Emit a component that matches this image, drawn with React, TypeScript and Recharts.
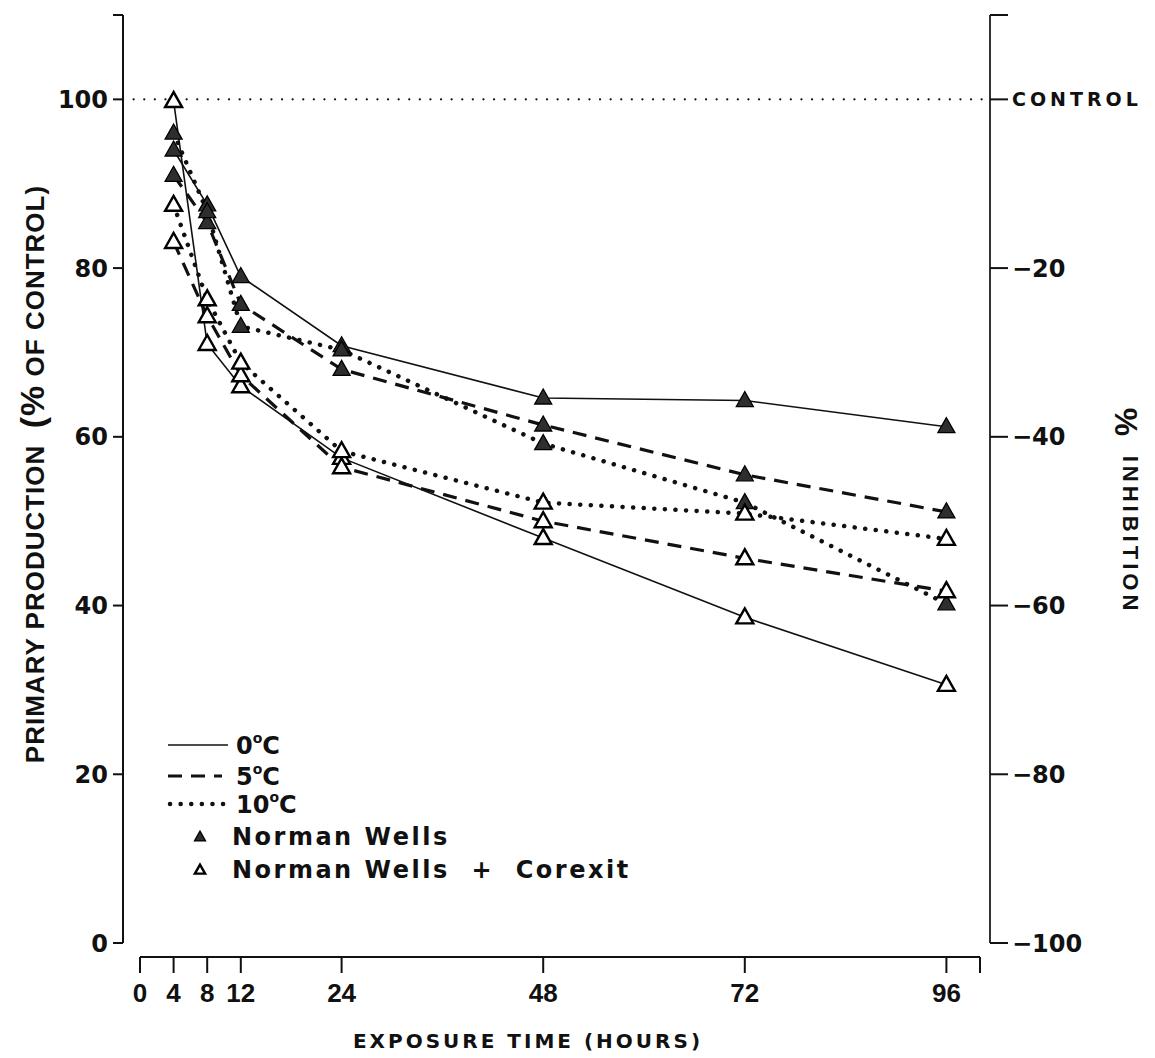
import React from 'react';
import { ComposedChart, Line, XAxis, YAxis, ReferenceLine, Legend } from 'recharts';

// ---------- data ----------
const hours = [4, 8, 12, 24, 48, 72, 96];
// Norman Wells (filled triangles)
const nw0 = [94, 87.5, 79, 70.8, 64.6, 64.3, 61.2];
const nw5 = [91, 85.4, 75.7, 68.0, 61.4, 55.5, 51.1];
const nw10 = [96, 86.7, 73.1, 70.3, 59.2, 52.2, 40.2];
// Norman Wells + Corexit (open triangles)
const nwc0 = [99.8, 71.0, 66.0, 57.5, 48.0, 38.6, 30.6];
const nwc5 = [83.1, 74.3, 67.3, 56.4, 50.0, 45.6, 41.7];
const nwc10 = [87.5, 76.3, 68.8, 58.3, 52.2, 50.9, 47.9];

const xTicks = [0, 4, 8, 12, 24, 48, 72, 96, 100];
const leftTicks = [0, 20, 40, 60, 80, 100, 110];
const rightTicks = [-100, -80, -60, -40, -20, 0, 10];
const controlValue = 100;

const data = hours.map((t, i) => ({
  t,
  nw0: nw0[i],
  nw5: nw5[i],
  nw10: nw10[i],
  nwc0: nwc0[i],
  nwc5: nwc5[i],
  nwc10: nwc10[i],
}));

// ---------- layout ----------
const W = 1139;
const H = 1050;
const LEFT_W = 115;
const RIGHT_W = 157;
const X_H = 115;
const TOP = 7;
const PAD_L = 17;
const PAD_R = 10;
const PLOT_W = W - LEFT_W - RIGHT_W;
const X_SPAN = PLOT_W - PAD_L - PAD_R;
const PLOT_BOTTOM = H - X_H;
const INK = '#111';

const SOLID = { strokeWidth: 1.6 };
const DASHED = { strokeWidth: 3.2, strokeDasharray: '14 9' };
const DOTTED = { strokeWidth: 4.5, strokeDasharray: '0.1 10.5', strokeLinecap: 'round' as const };

const Tri = ({ cx, cy, filled, scale = 1 }: any) => {
  if (cx == null || cy == null) return null;
  const w = 8.5 * scale;
  const up = 9 * scale;
  const dn = 6 * scale;
  const pts = `${cx},${cy - up} ${cx - w},${cy + dn} ${cx + w},${cy + dn}`;
  return (
    <polygon
      points={pts}
      fill={filled ? '#2e2e2e' : '#fff'}
      stroke="#000"
      strokeWidth={filled ? 1.3 : 2.4}
      strokeLinejoin="miter"
    />
  );
};

const dotFor = (filled: boolean, name: string) => (p: any) => (
  <Tri key={`${name}-${p.index}`} cx={p.cx} cy={p.cy} filled={filled} />
);

const XTick = (props: any) => {
  const { x, payload } = props;
  const v = payload.value;
  const base = PLOT_BOTTOM + 14;
  return (
    <g>
      {v === 0 && (
        <line x1={x} x2={x + X_SPAN} y1={base} y2={base} stroke={INK} strokeWidth={2} />
      )}
      <line x1={x} x2={x} y1={base} y2={base + 16} stroke={INK} strokeWidth={2} />
      {v !== 100 && (
        <text
          x={x}
          y={PLOT_BOTTOM + 59}
          textAnchor="middle"
          fontFamily="'Liberation Sans', Arial, sans-serif"
          fontWeight="bold"
          fontSize={26}
          fill={INK}
        >
          {v}
        </text>
      )}
    </g>
  );
};

const LeftTick = (props: any) => {
  const { x, y, payload } = props;
  const v = payload.value;
  if (v === 110) return <g />;
  return (
    <text
      x={x}
      y={y}
      dy="0.36em"
      textAnchor="end"
      fontFamily="'DejaVu Sans', sans-serif"
      fontWeight="bold"
      fontSize={24}
      fill={INK}
    >
      {v}
    </text>
  );
};

const RightTick = (props: any) => {
  const { x, y, payload } = props;
  const v = payload.value;
  if (v === 10) return <g />;
  if (v === 0) {
    return (
      <text
        x={x}
        y={y}
        dy="0.36em"
        textAnchor="start"
        fontFamily="'DejaVu Sans', sans-serif"
        fontWeight="bold"
        fontSize={19}
        letterSpacing={4}
        fill={INK}
      >
        CONTROL
      </text>
    );
  }
  return (
    <text
      x={x}
      y={y}
      dy="0.36em"
      textAnchor="start"
      fontFamily="'DejaVu Sans', sans-serif"
      fontWeight="bold"
      fontSize={24}
      fill={INK}
    >
      {`\u2212${-v}`}
    </text>
  );
};

const LeftTitle = () => (
  <text
    transform={`translate(36, 466) rotate(-90)`}
    textAnchor="middle"
    fontFamily="'Liberation Sans', Arial, sans-serif"
    fontWeight="bold"
    fontSize={26}
    letterSpacing={1}
    fill={INK}
  >
    PRIMARY PRODUCTION{'\u00A0\u00A0'}
    <tspan fontSize={34}>(%</tspan>
    {'\u00A0'}OF CONTROL)
  </text>
);

const RightTitle = () => (
  <g>
    <text
      transform={`translate(1107, 414) rotate(90)`}
      textAnchor="middle"
      fontFamily="'Liberation Sans', Arial, sans-serif"
      fontWeight="bold"
      fontSize={32}
      fill={INK}
    >
      %
    </text>
    <text
      transform={`translate(1115, 527) rotate(90)`}
      textAnchor="middle"
      fontFamily="'Liberation Sans', Arial, sans-serif"
      fontWeight="bold"
      fontSize={22}
      letterSpacing={4}
      fill={INK}
    >
      INHIBITION
    </text>
  </g>
);

const XTitle = () => (
  <text
    x={520}
    y={1040}
    textAnchor="middle"
    fontFamily="'DejaVu Sans', sans-serif"
    fontWeight="bold"
    fontSize={20}
    letterSpacing={3}
    fill={INK}
  >
    EXPOSURE TIME (HOURS)
  </text>
);

const Deg = ({ x, y, num }: any) => (
  <text
    x={x}
    y={y}
    fontFamily="'DejaVu Sans', sans-serif"
    fontWeight="bold"
    fontSize={24}
    fill={INK}
  >
    {num}
    <tspan fontSize={14} dy={-11}>o</tspan>
    <tspan dy={11}>C</tspan>
  </text>
);

const LegendBox = () => {
  const rows = [17, 48, 76, 108, 141];
  const textStyle = {
    fontFamily: "'DejaVu Sans', sans-serif",
    fontWeight: 'bold' as const,
    fontSize: 24,
    letterSpacing: 2.5,
    fill: INK,
  };
  return (
    <svg width={500} height={170} style={{ overflow: 'visible' }}>
      <line x1={10} x2={70} y1={rows[0]} y2={rows[0]} stroke={INK} {...SOLID} />
      <Deg x={78} y={rows[0] + 9} num="0" />
      <line x1={10} x2={64} y1={rows[1]} y2={rows[1]} stroke={INK} {...DASHED} />
      <Deg x={78} y={rows[1] + 9} num="5" />
      <line x1={12} x2={72} y1={rows[2]} y2={rows[2]} stroke={INK} {...DOTTED} />
      <Deg x={78} y={rows[2] + 9} num="10" />
      <Tri cx={42} cy={rows[3] + 1} filled scale={0.65} />
      <text x={74} y={rows[3] + 9} {...textStyle}>Norman Wells</text>
      <Tri cx={42} cy={rows[4] + 1} filled={false} scale={0.6} />
      <text x={74} y={rows[4] + 9} {...textStyle}>
        {'Norman Wells\u00A0 +\u00A0 Corexit'}
      </text>
    </svg>
  );
};

export default function App() {
  return (
    <div style={{ width: W, height: H, background: '#fff' }}>
      <ComposedChart width={W} height={H} data={data} margin={{ top: TOP, right: 0, bottom: 0, left: 0 }}>
        <XAxis
          dataKey="t"
          type="number"
          domain={[0, 100]}
          ticks={xTicks}
          interval={0}
          padding={{ left: PAD_L, right: PAD_R }}
          height={X_H}
          axisLine={false}
          tickLine={false}
          tick={(p: any) => <XTick {...p} />}
          label={{ content: () => <XTitle /> }}
        />
        <YAxis
          yAxisId="left"
          orientation="left"
          width={LEFT_W}
          type="number"
          domain={[0, 110]}
          ticks={leftTicks}
          interval={0}
          allowDataOverflow
          tickSize={10}
          tickMargin={5}
          axisLine={{ stroke: INK, strokeWidth: 2 }}
          tickLine={{ stroke: INK, strokeWidth: 2 }}
          tick={(p: any) => <LeftTick {...p} />}
          label={{ content: () => <LeftTitle /> }}
        />
        <YAxis
          yAxisId="right"
          orientation="right"
          width={RIGHT_W}
          type="number"
          domain={[-100, 10]}
          ticks={rightTicks}
          interval={0}
          allowDataOverflow
          tickSize={18}
          tickMargin={4}
          axisLine={{ stroke: '#333', strokeWidth: 2 }}
          tickLine={{ stroke: INK, strokeWidth: 2 }}
          tick={(p: any) => <RightTick {...p} />}
          label={{ content: () => <RightTitle /> }}
        />
        <ReferenceLine
          yAxisId="left"
          y={controlValue}
          stroke={INK}
          strokeWidth={2.2}
          strokeDasharray="0.1 10.5"
          strokeLinecap="round"
        />
        <Line yAxisId="left" type="linear" dataKey="nw0" stroke={INK} {...SOLID} dot={dotFor(true, 'nw0')} activeDot={false} isAnimationActive={false} />
        <Line yAxisId="left" type="linear" dataKey="nw5" stroke={INK} {...DASHED} dot={dotFor(true, 'nw5')} activeDot={false} isAnimationActive={false} />
        <Line yAxisId="left" type="linear" dataKey="nw10" stroke={INK} {...DOTTED} dot={dotFor(true, 'nw10')} activeDot={false} isAnimationActive={false} />
        <Line yAxisId="left" type="linear" dataKey="nwc0" stroke={INK} {...SOLID} dot={dotFor(false, 'nwc0')} activeDot={false} isAnimationActive={false} />
        <Line yAxisId="left" type="linear" dataKey="nwc5" stroke={INK} {...DASHED} dot={dotFor(false, 'nwc5')} activeDot={false} isAnimationActive={false} />
        <Line yAxisId="left" type="linear" dataKey="nwc10" stroke={INK} {...DOTTED} dot={dotFor(false, 'nwc10')} activeDot={false} isAnimationActive={false} />
        <Legend
          layout="vertical"
          align="center"
          verticalAlign="middle"
          content={() => <LegendBox />}
          wrapperStyle={{ left: 150, top: 720, width: 500, height: 170, position: 'absolute' }}
        />
      </ComposedChart>
    </div>
  );
}
